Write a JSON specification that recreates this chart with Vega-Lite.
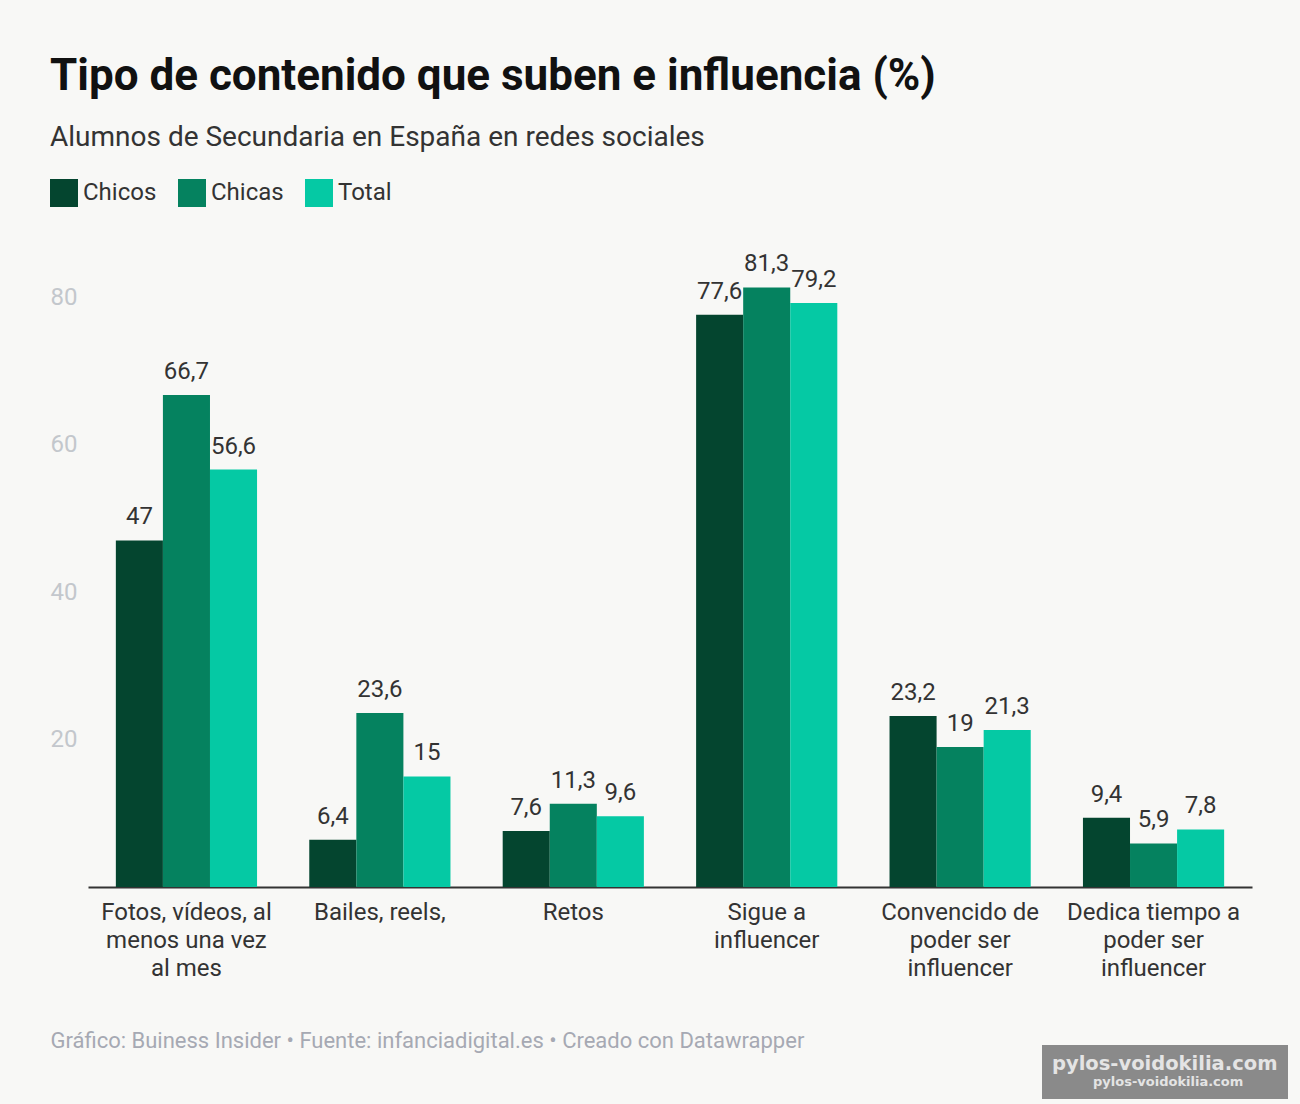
{
  "$schema": "https://vega.github.io/schema/vega-lite/v6.json",
  "width": 1162,
  "height": 590,
  "padding": {"left": 88, "top": 297, "right": 50, "bottom": 217},
  "autosize": "none",
  "background": "#f8f8f6",
  "title": {
    "text": "Tipo de contenido que suben e influencia (%)",
    "subtitle": "Alumnos de Secundaria en España en redes sociales",
    "anchor": "start",
    "frame": "group",
    "dx": -38,
    "offset": 27,
    "font": "Roboto",
    "fontSize": 44,
    "fontWeight": "bold",
    "color": "#111111",
    "subtitleFont": "Roboto",
    "subtitleFontSize": 28,
    "subtitleColor": "#333333",
    "subtitlePadding": 25
  },
  "data": {"values": [
    {"cat": "Fotos, vídeos, al|menos una vez|al mes", "grupo": "Chicos", "valor": 47, "txt": "47"},
    {"cat": "Fotos, vídeos, al|menos una vez|al mes", "grupo": "Chicas", "valor": 66.7, "txt": "66,7"},
    {"cat": "Fotos, vídeos, al|menos una vez|al mes", "grupo": "Total", "valor": 56.6, "txt": "56,6"},
    {"cat": "Bailes, reels,", "grupo": "Chicos", "valor": 6.4, "txt": "6,4"},
    {"cat": "Bailes, reels,", "grupo": "Chicas", "valor": 23.6, "txt": "23,6"},
    {"cat": "Bailes, reels,", "grupo": "Total", "valor": 15, "txt": "15"},
    {"cat": "Retos", "grupo": "Chicos", "valor": 7.6, "txt": "7,6"},
    {"cat": "Retos", "grupo": "Chicas", "valor": 11.3, "txt": "11,3"},
    {"cat": "Retos", "grupo": "Total", "valor": 9.6, "txt": "9,6"},
    {"cat": "Sigue a|influencer", "grupo": "Chicos", "valor": 77.6, "txt": "77,6"},
    {"cat": "Sigue a|influencer", "grupo": "Chicas", "valor": 81.3, "txt": "81,3"},
    {"cat": "Sigue a|influencer", "grupo": "Total", "valor": 79.2, "txt": "79,2"},
    {"cat": "Convencido de|poder ser|influencer", "grupo": "Chicos", "valor": 23.2, "txt": "23,2"},
    {"cat": "Convencido de|poder ser|influencer", "grupo": "Chicas", "valor": 19, "txt": "19"},
    {"cat": "Convencido de|poder ser|influencer", "grupo": "Total", "valor": 21.3, "txt": "21,3"},
    {"cat": "Dedica tiempo a|poder ser|influencer", "grupo": "Chicos", "valor": 9.4, "txt": "9,4"},
    {"cat": "Dedica tiempo a|poder ser|influencer", "grupo": "Chicas", "valor": 5.9, "txt": "5,9"},
    {"cat": "Dedica tiempo a|poder ser|influencer", "grupo": "Total", "valor": 7.8, "txt": "7,8"}
  ]},
  "encoding": {
    "x": {
      "field": "cat",
      "type": "nominal",
      "sort": null,
      "title": "Gráfico: Buiness Insider • Fuente: infanciadigital.es • Creado con Datawrapper",
      "scale": {"paddingInner": 0.27, "paddingOuter": 0.144, "range": [0, 1164]},
      "axis": {
        "labelExpr": "split(datum.label, '|')",
        "labelAngle": 0,
        "labelFont": "Roboto",
        "labelFontSize": 24,
        "labelColor": "#333333",
        "labelLineHeight": 28,
        "labelPadding": 13,
        "labelLimit": 300,
        "ticks": false,
        "domainColor": "#333333",
        "domainWidth": 2,
        "titleFont": "Roboto",
        "titleFontSize": 22,
        "titleFontWeight": "normal",
        "titleColor": "#a6a9b3",
        "titleAnchor": "start",
        "titleAlign": "left",
        "titleBaseline": "alphabetic",
        "titleX": -38,
        "titleY": 160
      }
    },
    "xOffset": {"field": "grupo", "type": "nominal", "sort": ["Chicos", "Chicas", "Total"]}
  },
  "layer": [
    {
      "mark": {"type": "bar"},
      "encoding": {
        "y": {
          "field": "valor",
          "type": "quantitative",
          "title": null,
          "scale": {"domain": [0, 80], "range": [590, 0], "nice": false},
          "axis": {
            "values": [20, 40, 60, 80],
            "labelFont": "Roboto",
            "labelFontSize": 24,
            "labelColor": "#c3c7cc",
            "labelPadding": 11,
            "grid": false,
            "ticks": false,
            "domain": false
          }
        },
        "color": {
          "field": "grupo",
          "type": "nominal",
          "sort": ["Chicos", "Chicas", "Total"],
          "title": null,
          "scale": {"domain": ["Chicos", "Chicas", "Total"], "range": ["#04452f", "#05825f", "#05c9a4"]},
          "legend": {
            "orient": "none",
            "direction": "horizontal",
            "legendX": -38,
            "legendY": -118,
            "symbolType": "square",
            "symbolSize": 784,
            "symbolOpacity": 1,
            "symbolStrokeWidth": 0,
            "labelFont": "Roboto",
            "labelFontSize": 24,
            "labelColor": "#333333",
            "labelOffset": 5,
            "columnPadding": 21,
            "padding": 0
          }
        }
      }
    },
    {
      "mark": {"type": "text", "baseline": "bottom", "dy": -11, "font": "Roboto", "fontSize": 24, "color": "#333333"},
      "encoding": {
        "y": {"field": "valor", "type": "quantitative"},
        "text": {"field": "txt"},
        "opacity": {
          "datum": "pylos-voidokilia.com",
          "scale": {"domain": ["pylos-voidokilia.com"], "range": [1]},
          "legend": {
            "orient": "none",
            "legendX": 954,
            "legendY": 748,
            "title": "pylos-voidokilia.com",
            "titleFont": "DejaVu Sans",
            "titleFontSize": 19.5,
            "titleFontWeight": "bold",
            "titleColor": "#e4e4e4",
            "titlePadding": 1,
            "titleLimit": 300,
            "labelFont": "DejaVu Sans",
            "labelFontSize": 13,
            "labelFontWeight": "bold",
            "labelColor": "#e4e4e4",
            "symbolSize": 0,
            "symbolOpacity": 0,
            "symbolOffset": 0,
            "labelOffset": 28,
            "fillColor": "#8a8a8a",
            "padding": 10
          }
        }
      }
    }
  ],
  "config": {"view": {"stroke": null}}
}
